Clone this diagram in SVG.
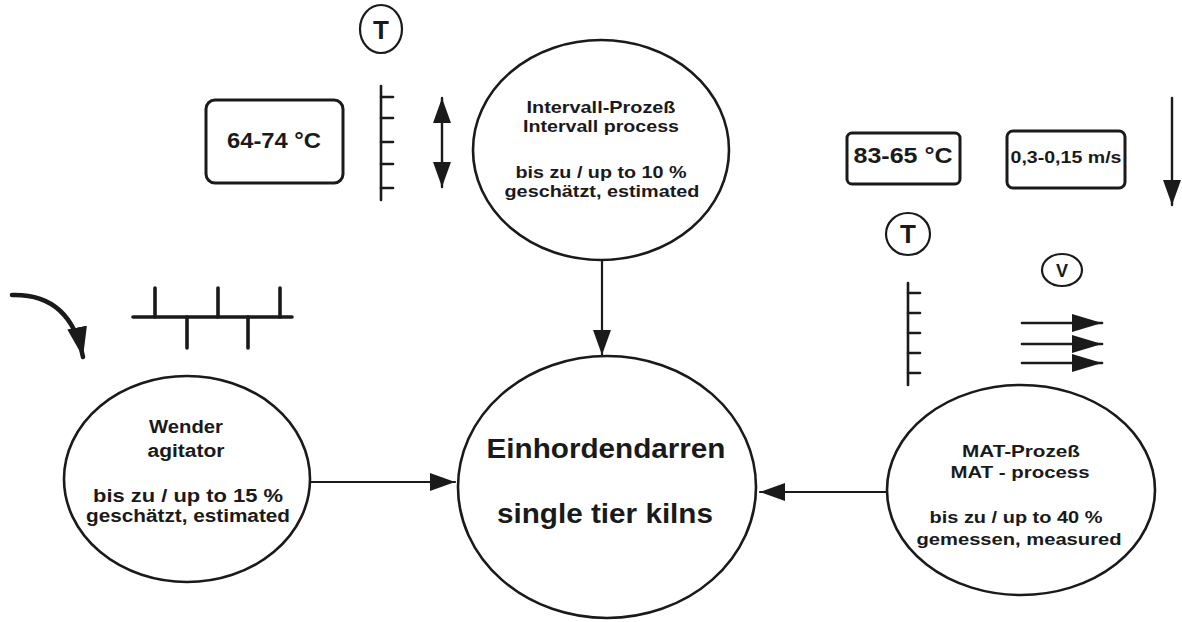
<svg xmlns="http://www.w3.org/2000/svg" width="1182" height="622" viewBox="0 0 1182 622">
  <defs>
    <style>
      .node { fill: #ffffff; stroke: #1a1a1a; stroke-width: 2.6; }
      .box { fill: #ffffff; stroke: #1a1a1a; stroke-width: 3; }
      .pen { fill: none; stroke: #1a1a1a; stroke-linecap: round; }
      .lbl { font-family: "Liberation Sans", Arial, sans-serif; font-weight: bold; fill: #1a1a1a; text-anchor: middle; }
      .big { font-family: "Liberation Sans", Arial, sans-serif; font-weight: bold; fill: #1a1a1a; text-anchor: middle; font-size: 28px; }
      .sym { fill: none; stroke: #1a1a1a; stroke-width: 2.2; }
    </style>
    <marker id="head" markerUnits="userSpaceOnUse" markerWidth="26" markerHeight="18" refX="25" refY="9" orient="auto-start-reverse">
      <path d="M0,0 L25,9 L0,18 z" fill="#1a1a1a"/>
    </marker>
    <marker id="headSmall" markerUnits="userSpaceOnUse" markerWidth="31" markerHeight="18" refX="30" refY="9" orient="auto">
      <path d="M0,0 L30,9 L0,18 z" fill="#1a1a1a"/>
    </marker>
    <marker id="headCurve" markerUnits="userSpaceOnUse" markerWidth="32" markerHeight="22" refX="30" refY="10" orient="auto">
      <path d="M0,0 L30,10 L0,20 z" fill="#1a1a1a"/>
    </marker>
  </defs>

  <rect width="1182" height="622" fill="#ffffff"/>

  <!-- connectors between the process nodes and the kiln -->
  <g id="connectors" class="pen" stroke-width="2.2">
    <line x1="602" y1="260" x2="602" y2="355" marker-end="url(#head)"/>
    <line x1="310" y1="482" x2="455" y2="482" marker-end="url(#head)"/>
    <line x1="887" y1="492" x2="760" y2="492" marker-end="url(#head)"/>
  </g>

  <!-- interval process: temperature symbol, scale, range and alternating airflow -->
  <g id="interval-symbols">
    <ellipse class="sym" cx="381" cy="29" rx="21" ry="24"/>
    <text class="lbl" x="381" y="39" font-size="26">T</text>
    <rect class="box" x="206" y="100" width="137" height="83" rx="9"/>
    <text class="lbl" x="274" y="148" font-size="22" textLength="94" lengthAdjust="spacingAndGlyphs">64-74 °C</text>
    <g class="pen" stroke-width="2.6">
      <line x1="381" y1="86" x2="381" y2="200"/>
      <line x1="381" y1="97" x2="393" y2="97"/>
      <line x1="381" y1="118" x2="393" y2="118"/>
      <line x1="381" y1="142" x2="393" y2="142"/>
      <line x1="381" y1="164" x2="393" y2="164"/>
      <line x1="381" y1="188" x2="393" y2="188"/>
      <line x1="442" y1="98" x2="442" y2="187" stroke-width="2.4" marker-start="url(#head)" marker-end="url(#head)"/>
    </g>
  </g>

  <!-- MAT process: temperature, airspeed and airflow symbols -->
  <g id="mat-symbols">
    <rect class="box" x="847" y="133" width="113" height="51" rx="5"/>
    <text class="lbl" x="903" y="163" font-size="22" textLength="99" lengthAdjust="spacingAndGlyphs">83-65 °C</text>
    <rect class="box" x="1007" y="131" width="118" height="57" rx="6"/>
    <text class="lbl" x="1066" y="163" font-size="17" textLength="111" lengthAdjust="spacingAndGlyphs">0,3-0,15 m/s</text>
    <line class="pen" x1="1172" y1="98" x2="1172" y2="205" stroke-width="2.4" marker-end="url(#head)"/>
    <ellipse class="sym" cx="908" cy="234" rx="22" ry="21"/>
    <text class="lbl" x="908" y="243" font-size="26">T</text>
    <ellipse class="sym" cx="1062" cy="270" rx="20" ry="16"/>
    <text class="lbl" x="1062" y="277" font-size="18">V</text>
    <g class="pen" stroke-width="2.6">
      <line x1="908" y1="283" x2="908" y2="385"/>
      <line x1="908" y1="293" x2="920" y2="293"/>
      <line x1="908" y1="313" x2="920" y2="313"/>
      <line x1="908" y1="333" x2="920" y2="333"/>
      <line x1="908" y1="353" x2="920" y2="353"/>
      <line x1="908" y1="373" x2="920" y2="373"/>
      <line x1="1022" y1="323" x2="1102" y2="323" marker-end="url(#headSmall)"/>
      <line x1="1022" y1="344" x2="1102" y2="344" marker-end="url(#headSmall)"/>
      <line x1="1022" y1="363" x2="1102" y2="363" marker-end="url(#headSmall)"/>
    </g>
  </g>

  <!-- agitator: turning direction and paddle symbol -->
  <g id="agitator-symbols" class="pen">
    <path d="M12,295 C48,294 74,312 83,357" stroke-width="4.5" marker-end="url(#headCurve)"/>
    <g stroke-width="3.6">
      <line x1="133" y1="317" x2="292" y2="317"/>
      <line x1="155" y1="288" x2="155" y2="317"/>
      <line x1="218" y1="288" x2="218" y2="317"/>
      <line x1="280" y1="288" x2="280" y2="317"/>
      <line x1="187" y1="317" x2="187" y2="348"/>
      <line x1="248" y1="317" x2="248" y2="348"/>
    </g>
  </g>

  <g id="node-interval">
    <ellipse class="node" cx="601" cy="150" rx="128" ry="110"/>
    <text class="lbl" x="601" y="113" font-size="17" textLength="149" lengthAdjust="spacingAndGlyphs">Intervall-Prozeß</text>
    <text class="lbl" x="601" y="132" font-size="17" textLength="156" lengthAdjust="spacingAndGlyphs">Intervall process</text>
    <text class="lbl" x="601" y="178" font-size="17" textLength="171" lengthAdjust="spacingAndGlyphs">bis zu / up to 10 %</text>
    <text class="lbl" x="602" y="197" font-size="17" textLength="195" lengthAdjust="spacingAndGlyphs">geschätzt, estimated</text>
  </g>

  <g id="node-agitator">
    <ellipse class="node" cx="187" cy="479" rx="123" ry="103"/>
    <text class="lbl" x="186" y="433" font-size="18" textLength="74" lengthAdjust="spacingAndGlyphs">Wender</text>
    <text class="lbl" x="186" y="457" font-size="18" textLength="77" lengthAdjust="spacingAndGlyphs">agitator</text>
    <text class="lbl" x="188" y="502" font-size="18" textLength="190" lengthAdjust="spacingAndGlyphs">bis zu / up to 15 %</text>
    <text class="lbl" x="188" y="522" font-size="18" textLength="204" lengthAdjust="spacingAndGlyphs">geschätzt, estimated</text>
  </g>

  <g id="node-kiln">
    <ellipse class="node" cx="607" cy="487" rx="149" ry="131"/>
    <text class="big" x="606" y="458" textLength="239" lengthAdjust="spacingAndGlyphs">Einhordendarren</text>
    <text class="big" x="605" y="523" textLength="216" lengthAdjust="spacingAndGlyphs">single tier kilns</text>
  </g>

  <g id="node-mat">
    <ellipse class="node" cx="1021" cy="490" rx="134" ry="105"/>
    <text class="lbl" x="1021" y="457" font-size="17" textLength="118" lengthAdjust="spacingAndGlyphs">MAT-Prozeß</text>
    <text class="lbl" x="1020" y="478" font-size="17" textLength="139" lengthAdjust="spacingAndGlyphs">MAT - process</text>
    <text class="lbl" x="1016" y="523" font-size="17" textLength="173" lengthAdjust="spacingAndGlyphs">bis zu / up to 40 %</text>
    <text class="lbl" x="1019" y="545" font-size="17" textLength="205" lengthAdjust="spacingAndGlyphs">gemessen, measured</text>
  </g>
</svg>
